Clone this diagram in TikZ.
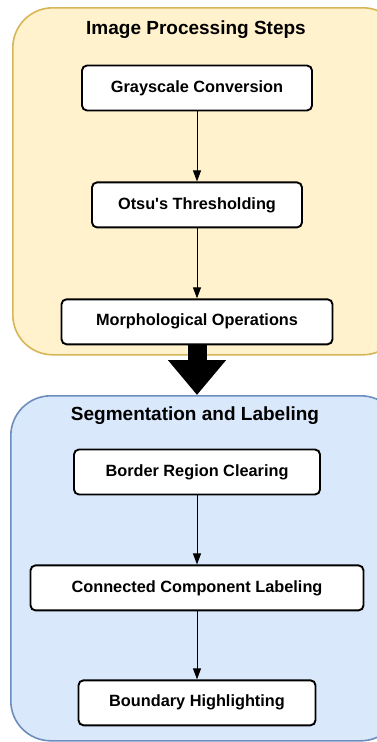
\documentclass[tikz,border=0pt]{standalone}
\usepackage{fontspec}
\setmainfont{Liberation Sans}[Ligatures=TeXOff]
\usepackage{xcolor}
\usetikzlibrary{arrows.meta,positioning}

\definecolor{procfill}{HTML}{FFF2CC}
\definecolor{procline}{HTML}{D6B656}
\definecolor{segfill}{HTML}{DAE8FC}
\definecolor{segline}{HTML}{6C8EBF}

\begin{document}
\begin{tikzpicture}[
    x=1pt, y=-1pt,
    node distance=70pt,
    group/.style={rectangle, draw, line width=1.6pt, rounded corners=40pt, anchor=north west, minimum width=390pt},
    stepbox/.style={rectangle, draw, line width=1.9pt, fill=white, rounded corners=5pt, minimum height=45pt, font=\fontsize{16.3}{19}\selectfont\bfseries},
    title/.style={font=\fontsize{19}{22}\selectfont\bfseries},
    arrow/.style={-{Triangle[width=8pt,length=11pt]}, line width=0.9pt},
    bigarrow/.style={-{Triangle[width=56pt,length=35pt]}, line width=19pt}
]
\useasboundingbox (0,0) rectangle (377,742);

% Groups
\node[group, fill=procfill, draw=procline, minimum height=347pt] (procgrp) at (12,7) {};
\node[group, fill=segfill, draw=segline, minimum height=345pt] (seggrp) at (10,395) {};
\node[title] (proctitle) at (196,30) {Image Processing Steps};
\node[title] (segtitle) at (195,416) {Segmentation and Labeling};

% Image processing
\node[stepbox, minimum width=230pt] (gray) at (197,88) {Grayscale Conversion};
\node[stepbox, minimum width=210pt, below=70pt of gray] (otsu) {Otsu's Thresholding};
\node[stepbox, minimum width=271pt, below=70pt of otsu] (morph) {Morphological Operations};

% Segmentation
\node[stepbox, minimum width=246pt] (border) at (197,472) {Border Region Clearing};
\node[stepbox, minimum width=333pt, below=69pt of border] (ccl) {Connected Component Labeling};
\node[stepbox, minimum width=237pt, below=68pt of ccl] (bound) {Boundary Highlighting};

% Connections
\draw[arrow] (gray) -- (otsu);
\draw[arrow] (otsu) -- (morph);
\draw[arrow] (border) -- (ccl);
\draw[arrow] (ccl) -- (bound);
\draw[bigarrow] (morph.south) -- (morph.south |- seggrp.north);

\end{tikzpicture}
\end{document}
